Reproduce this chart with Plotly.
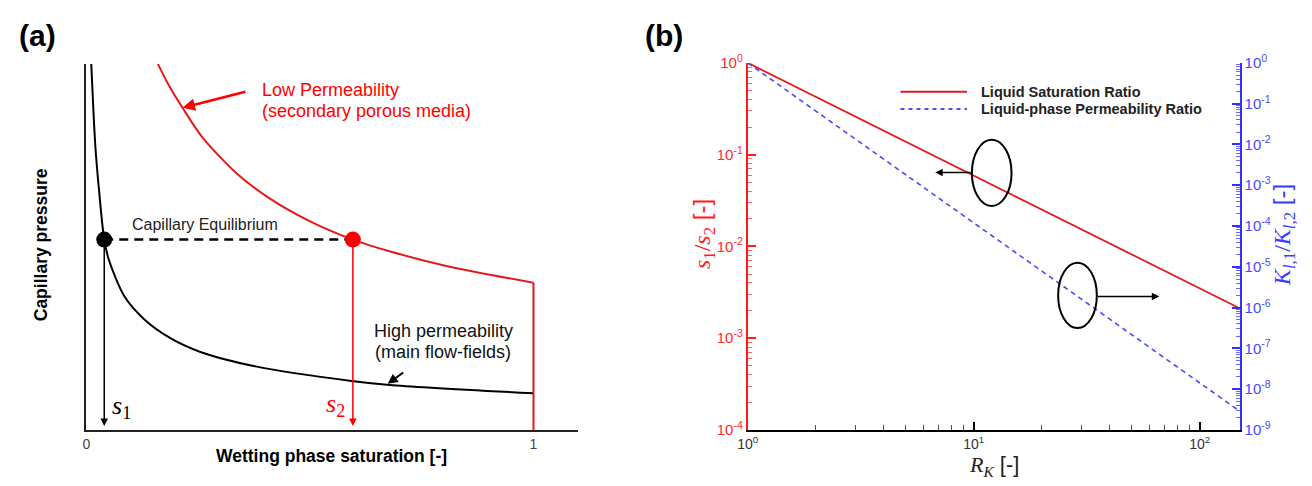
import numpy as np
import plotly.graph_objects as go

W, H = 1312, 486

# ---------------- Panel (a) data (schematic capillary pressure curves) ----------------
sat_high = [0.011, 0.020, 0.029, 0.040, 0.051, 0.085, 0.128, 0.186, 0.255, 0.381, 0.593, 0.678, 1.0]
pc_high = [1.0, 0.777, 0.646, 0.520, 0.462, 0.365, 0.304, 0.252, 0.213, 0.173, 0.134, 0.123, 0.100]
sat_low = [0.160, 0.185, 0.215, 0.259, 0.335, 0.408, 0.497, 0.596, 0.678, 0.805, 1.0, 1.0]
pc_low = [1.0, 0.940, 0.880, 0.800, 0.702, 0.634, 0.572, 0.520, 0.488, 0.448, 0.402, 0.0]
s1_eq, s2_eq, pc_eq = 0.040, 0.596, 0.520
a_tickvals = [0, 1]
a_ticktext = ["0", "1"]

# ---------------- Panel (b) data ----------------
rk = [1, 10, 100, 150]
sat_ratio = [1.0, 0.059, 3.5e-3, 2.12e-3]
perm_ratio = [1.0, 1.2e-4, 1.45e-8, 2.9e-9]
x_major = [1, 10, 100]
x_major_text = ["10<sup>0</sup>", "10<sup>1</sup>", "10<sup>2</sup>"]
y2_exps = [0, -1, -2, -3, -4]
y3_exps = [0, -1, -2, -3, -4, -5, -6, -7, -8, -9]

SANS = "Liberation Sans, Arial, sans-serif"
SERIF = "Liberation Serif"
RED = "#e31a1a"
BLUE = "#4a4aff"


def px(v):
    return v / W


def py(v):
    return 1 - v / H


fig = go.Figure()

# ---- panel (a) traces ----
fig.add_trace(go.Scatter(x=sat_high, y=pc_high, mode="lines", name="High permeability",
                         line=dict(color="black", width=2, shape="spline", smoothing=0.8),
                         xaxis="x", yaxis="y", showlegend=False))
fig.add_trace(go.Scatter(x=sat_low[:-1], y=pc_low[:-1], mode="lines", name="Low Permeability",
                         line=dict(color=RED, width=2, shape="spline", smoothing=0.8),
                         xaxis="x", yaxis="y", showlegend=False))
fig.add_trace(go.Scatter(x=sat_low[-2:], y=pc_low[-2:], mode="lines",
                         line=dict(color=RED, width=2), xaxis="x", yaxis="y", showlegend=False))
fig.add_trace(go.Scatter(x=[s1_eq, s2_eq], y=[pc_eq, pc_eq], mode="lines",
                         line=dict(color="black", width=2.5, dash="9px,6px"),
                         xaxis="x", yaxis="y", showlegend=False))
fig.add_trace(go.Scatter(x=[s1_eq], y=[pc_eq], mode="markers",
                         marker=dict(color="black", size=16), xaxis="x", yaxis="y", showlegend=False))
fig.add_trace(go.Scatter(x=[s2_eq], y=[pc_eq], mode="markers",
                         marker=dict(color="#ff0000", size=16), xaxis="x", yaxis="y", showlegend=False))

# ---- panel (b) traces ----
fig.add_trace(go.Scatter(x=rk, y=sat_ratio, mode="lines", name="Liquid Saturation Ratio",
                         line=dict(color=RED, width=1.8), xaxis="x2", yaxis="y2", showlegend=False))
fig.add_trace(go.Scatter(x=rk, y=perm_ratio, mode="lines", name="Liquid-phase Permeability Ratio",
                         line=dict(color=BLUE, width=1.6, dash="5px,4px"),
                         xaxis="x2", yaxis="y3", showlegend=False))

dom_a_x = [px(76), px(572)]
dom_y = [py(436), py(54)]
dom_b_x = [px(743), px(1239)]

x_minor = [m * 10 ** k for k in range(0, 2) for m in range(2, 10)]
y2_minor = [m * 10.0 ** k for k in range(-4, 0) for m in range(2, 10)]
y3_minor = [m * 10.0 ** k for k in range(-9, 0) for m in range(2, 10)]

fig.update_layout(
    width=W, height=H, margin=dict(l=0, r=0, t=0, b=0),
    paper_bgcolor="white", plot_bgcolor="white",
    font=dict(family=SANS, color="black"),
    xaxis=dict(domain=dom_a_x, range=[0, 1.1], anchor="y", showline=True, linecolor="#222",
               linewidth=2, showgrid=False, zeroline=False, tickvals=a_tickvals,
               ticktext=a_ticktext, ticks="", tickfont=dict(size=14, color="#444")),
    yaxis=dict(domain=[py(436), py(55)], range=[0, 1], anchor="x", showline=True, linecolor="#222",
               linewidth=2, showgrid=False, zeroline=False, showticklabels=False, ticks=""),
    xaxis2=dict(domain=dom_b_x, type="log", range=[0, np.log10(150)], anchor="y2",
                showline=True, linecolor="black", linewidth=2, showgrid=False, zeroline=False,
                tickmode="array", tickvals=x_major, ticktext=x_major_text,
                ticks="inside", ticklen=8, tickwidth=2, tickcolor="black",
                tickfont=dict(size=14, color="#333"),
                minor=dict(tickmode="array", tickvals=x_minor, ticks="inside", ticklen=5,
                           tickwidth=1, tickcolor="#555")),
    yaxis2=dict(domain=dom_y, type="log", range=[-4, 0], anchor="x2",
                showline=True, linecolor="#ff1a1a", linewidth=2, showgrid=False, zeroline=False,
                tickmode="array", tickvals=[10.0 ** e for e in y2_exps],
                ticktext=["10<sup>%d</sup>" % e for e in y2_exps],
                ticks="inside", ticklen=8, tickwidth=2, tickcolor="#ff1a1a",
                tickfont=dict(size=15, color="#ff2a2a"),
                minor=dict(tickmode="array", tickvals=y2_minor, ticks="inside", ticklen=4,
                           tickwidth=1, tickcolor="#ff6060")),
    yaxis3=dict(domain=dom_y, type="log", range=[-9, 0], anchor="x2", overlaying="y2", side="right",
                showline=True, linecolor="#3030ff", linewidth=2, showgrid=False, zeroline=False,
                tickmode="array", tickvals=[10.0 ** e for e in y3_exps],
                ticktext=["10<sup>%d</sup>" % e for e in y3_exps],
                ticks="inside", ticklen=8, tickwidth=2, tickcolor="#3030ff",
                tickfont=dict(size=15, color="#4a4aff"),
                minor=dict(tickmode="array", tickvals=y3_minor, ticks="inside", ticklen=4,
                           tickwidth=1, tickcolor="#6a6aff")),
)

ann = []


def txt(x, y, text, size, color="black", xanchor="left", angle=0):
    ann.append(dict(x=px(x), y=py(y), xref="paper", yref="paper", text=text, showarrow=False,
                    xanchor=xanchor, yanchor="middle", textangle=angle,
                    font=dict(size=size, color=color, family=SANS)))


txt(6, 25, "<b>(a)</b>", 30)
txt(637, 25, "<b>(b)</b>", 30)
txt(30, 243, "<b>Capillary pressure</b>", 17.5, xanchor="center", angle=-90)
txt(323, 463, "<b>Wetting phase saturation [-]</b>", 17.5, xanchor="center")
txt(120, 222, "Capillary Equilibrium", 16, color="#222")
txt(251, 82, "Low Permeability", 18, color="#ff0000")
txt(251, 104, "(secondary porous media)", 18, color="#ff0000")
txt(364, 333, "High permeability", 18, color="#111")
txt(365, 355, "(main flow-fields)", 18, color="#111")
txt(100, 412, '<span style="font-family:%s"><i>s</i><sub>1</sub></span>' % SERIF, 26)
txt(316, 410, '<span style="font-family:%s"><i>s</i><sub>2</sub></span>' % SERIF, 26, color="#ff0000")

# panel (b) texts
txt(976, 84, "<b>Liquid Saturation Ratio</b>", 14.5, color="#222")
txt(976, 102, "<b>Liquid-phase Permeability Ratio</b>", 14.5, color="#222")
txt(699, 232, '<span style="font-family:%s"><i>s</i><sub>1</sub>/<i>s</i><sub>2</sub></span> [-]' % SERIF,
    24, color="#ff1a1a", xanchor="center", angle=-90)
txt(1284, 233, '<span style="font-family:%s"><i>K</i><sub><i>l</i>,1</sub>/<i>K</i><sub><i>l</i>,2</sub></span> [-]' % SERIF,
    24, color="#3a3aff", xanchor="center", angle=-90)
txt(991, 473, '<span style="font-family:%s"><i>R</i><sub><i>K</i></sub></span> [-]' % SERIF,
    22, color="#222", xanchor="center")

# arrows panel (a)
for sx, col in [(s1_eq, "black"), (s2_eq, "#ff0000")]:
    ann.append(dict(x=sx, y=0.0105, xref="x", yref="y", ax=sx, ay=pc_eq, axref="x", ayref="y",
                    showarrow=True, arrowhead=2, arrowsize=1, arrowwidth=1.5, arrowcolor=col, text=""))
ann.append(dict(x=0.215, y=0.880, xref="x", yref="y", ax=0.359, ay=0.925, axref="x", ayref="y",
                showarrow=True, arrowhead=2, arrowsize=1, arrowwidth=2.5, arrowcolor="#ff0000", text=""))
ann.append(dict(x=0.674, y=0.126, xref="x", yref="y", ax=0.712, ay=0.160, axref="x", ayref="y",
                showarrow=True, arrowhead=2, arrowsize=1, arrowwidth=2, arrowcolor="black", text=""))

# arrows panel (b)
ann.append(dict(x=px(932), y=py(168), xref="paper", yref="paper", ax=37, ay=0,
                showarrow=True, arrowhead=2, arrowsize=1, arrowwidth=1.5, arrowcolor="black", text=""))
ann.append(dict(x=px(1158), y=py(297), xref="paper", yref="paper", ax=-63, ay=0,
                showarrow=True, arrowhead=2, arrowsize=1, arrowwidth=1.5, arrowcolor="black", text=""))

shapes = [
    dict(type="circle", xref="paper", yref="paper", x0=px(969), x1=px(1009), y0=py(203), y1=py(134),
         line=dict(color="black", width=2)),
    dict(type="circle", xref="paper", yref="paper", x0=px(1056), x1=px(1095), y0=py(330), y1=py(262),
         line=dict(color="black", width=2)),
    dict(type="line", xref="paper", yref="paper", x0=px(897), x1=px(964), y0=py(84), y1=py(84),
         line=dict(color=RED, width=2)),
    dict(type="line", xref="paper", yref="paper", x0=px(897), x1=px(964), y0=py(102), y1=py(102),
         line=dict(color=BLUE, width=2, dash="4px,4px")),
]

fig.update_layout(annotations=ann, shapes=shapes)
fig.write_html("out.html")
